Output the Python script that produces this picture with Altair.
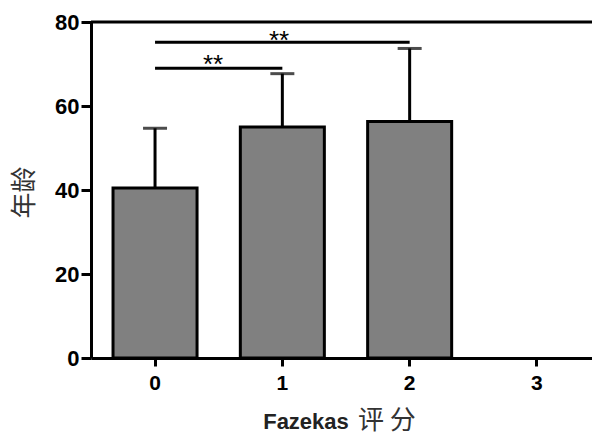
import altair as alt
import pandas as pd

categories = ["0", "1", "2", "3"]
bar_cats = ["0", "1", "2"]
means = [40.5, 55.0, 56.3]
upper = [54.7, 67.7, 73.7]

sig_from = ["0", "0"]
sig_to = ["1", "2"]
sig_y = [69.0, 75.2]
star_y = [72.9, 78.6]
star_dx = [58, 124]
star_text = ["**", "**"]

W, H = 501, 336
XR = 510

bars_df = pd.DataFrame({"cat": bar_cats, "mean": means, "upper": upper})
sig_df = pd.DataFrame({"a": sig_from, "b": sig_to, "y": sig_y})

xscale = alt.Scale(domain=categories, range=[0, XR], paddingInner=0.34, paddingOuter=0.173)
yscale = alt.Scale(domain=[0, 80], nice=False)

xaxis = alt.Axis(
    title=None, labelAngle=0, labelFont="Liberation Sans", labelFontSize=21,
    labelFontWeight="bold", labelColor="black", labelPadding=6,
    domainColor="black", domainWidth=3, tickColor="black", tickWidth=3, tickSize=8,
)
yaxis = alt.Axis(
    title="年龄", values=[0, 20, 40, 60, 80], grid=False,
    labelFont="Liberation Sans", labelFontSize=22, labelFontWeight="bold",
    labelColor="black", labelPadding=2,
    domainColor="black", domainWidth=3, tickColor="black", tickWidth=3, tickSize=10,
    titleFont="Noto Sans CJK SC", titleFontSize=26, titleFontWeight="normal",
    titleColor="#333333", titleAngle=270, titleAlign="center", titleBaseline="middle",
    titleX=-67, titleY=170,
)

base = alt.Chart(bars_df)

bars = base.mark_bar(color="#808080", stroke="black", strokeWidth=3).encode(
    x=alt.X("cat:N", scale=xscale, axis=xaxis, sort=categories),
    y=alt.Y("mean:Q", scale=yscale, axis=yaxis),
)
err = base.mark_rule(color="black", strokeWidth=3).encode(
    x=alt.X("cat:N", scale=xscale, sort=categories),
    y="mean:Q", y2="upper:Q",
)
caps = base.mark_tick(color="black", thickness=3, size=24, orient="horizontal").encode(
    x=alt.X("cat:N", scale=xscale, sort=categories),
    y="upper:Q",
)
sig = alt.Chart(sig_df).mark_rule(color="black", strokeWidth=3).encode(
    x=alt.X("a:N", scale=xscale, sort=categories),
    x2="b:N",
    y="y:Q",
)

star_layers = []
for sy, sdx, st in zip(star_y, star_dx, star_text):
    star_layers.append(
        alt.Chart(pd.DataFrame({"cat": ["0"], "y": [sy], "t": [st]})).mark_text(
            font="Liberation Sans", fontSize=26, color="black", dx=sdx,
            baseline="top", align="center",
        ).encode(x=alt.X("cat:N", scale=xscale, sort=categories), y="y:Q", text="t:N")
    )

top_line = alt.Chart(pd.DataFrame({"d": [0]})).mark_rule(color="black", strokeWidth=3).encode(
    x=alt.value(0), x2=alt.value(XR), y=alt.value(0)
)

xt1 = alt.Chart(pd.DataFrame({"t": ["Fazekas"]})).mark_text(
    font="Liberation Sans", fontSize=22, fontWeight="bold", color="#222222",
    align="center", baseline="alphabetic",
).encode(x=alt.value(215), y=alt.value(407), text="t:N")
xt2 = alt.Chart(pd.DataFrame({"t": ["评  分"]})).mark_text(
    font="Noto Sans CJK SC", fontSize=26, fontWeight="normal", color="#333333",
    align="left", baseline="alphabetic",
).encode(x=alt.value(267), y=alt.value(407), text="t:N")

chart = alt.layer(bars, err, caps, sig, *star_layers, top_line, xt1, xt2).properties(
    width=W, height=H,
    autosize=alt.AutoSizeParams(type="none"),
    padding={"left": 83, "top": 14, "right": 0, "bottom": 78},
    background="white",
).configure_view(stroke=None)

chart.save("out.html", embed_options={"renderer": "svg", "actions": False})
